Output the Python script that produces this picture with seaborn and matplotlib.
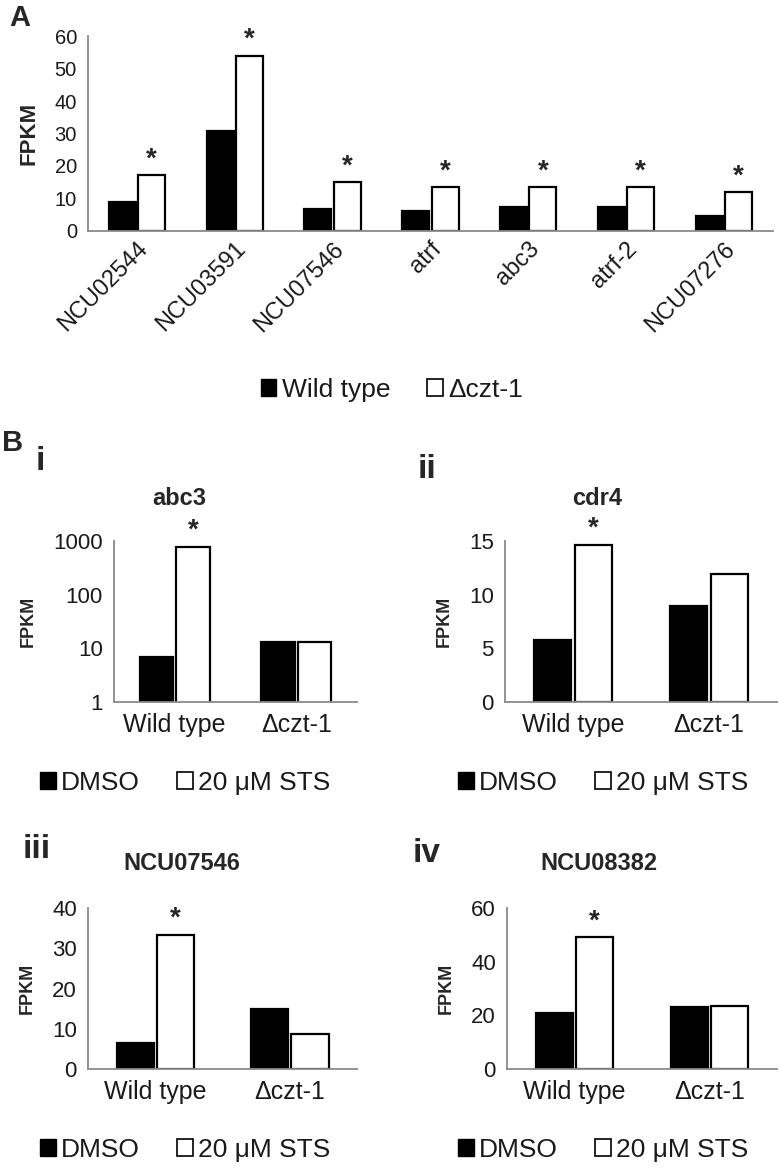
import numpy as np
import pandas as pd
import matplotlib.pyplot as plt
import seaborn as sns
from matplotlib.patches import Patch
from matplotlib.ticker import FixedLocator, NullLocator

# ---------------- data ----------------
genes_a = ["NCU02544", "NCU03591", "NCU07546", "atrf", "abc3", "atrf-2", "NCU07276"]
wt_a = [8.9, 30.9, 6.8, 6.3, 7.3, 7.3, 4.6]
czt_a = [17.2, 54.0, 15.1, 13.4, 13.4, 13.4, 11.9]
strains_a = ["Wild type", "\u0394czt-1"]

strains_b = ["Wild type", "\u0394czt-1"]
treatments = ["DMSO", "20 \u03bcM STS"]
abc3_dmso = [6.9, 13.1]
abc3_sts = [780, 13.0]
cdr4_dmso = [5.8, 8.95]
cdr4_sts = [14.66, 11.96]
ncu07546_dmso = [6.4, 14.8]
ncu07546_sts = [33.4, 8.7]
ncu08382_dmso = [21.0, 23.0]
ncu08382_sts = [49.1, 23.5]

sns.set_style("white")
plt.rcParams["font.family"] = ["Liberation Sans", "DejaVu Sans"]

GREY = "#8a8a8a"
TXT = "#1a1a1a"

fig = plt.figure(figsize=(7.79, 11.69), dpi=100)


def style_axes(ax, n, ysize):
    for s in ["top", "right"]:
        ax.spines[s].set_visible(False)
    for s in ["left", "bottom"]:
        ax.spines[s].set_color(GREY)
        ax.spines[s].set_linewidth(1.3)
    ax.set_xlim(-0.5, n - 0.5)
    ax.xaxis.set_minor_locator(FixedLocator(np.arange(-0.5, n, 1.0)))
    ax.tick_params(axis="x", which="major", length=0, pad=8, colors=TXT)
    ax.tick_params(axis="x", which="minor", length=7, width=1.3, color=GREY)
    ax.tick_params(axis="y", which="major", length=5, width=1.3, color=GREY,
                   labelcolor=TXT, labelsize=ysize, pad=3)
    ax.tick_params(axis="y", which="minor", length=0)
    ax.set_xlabel("")


def bars(ax, cats, s1, s2, hue_names, width=0.6):
    df = pd.DataFrame({
        "cat": cats * 2,
        "val": list(s1) + list(s2),
        "grp": [hue_names[0]] * len(cats) + [hue_names[1]] * len(cats),
    })
    sns.barplot(data=df, x="cat", y="val", hue="grp", order=cats,
                hue_order=hue_names, palette=["black", "white"],
                edgecolor="black", linewidth=1.6, width=width, gap=0.08,
                legend=False, ax=ax)


def stars(ax, idx):
    for i in idx:
        b = ax.containers[1][i]
        ax.annotate("*", (b.get_x() + b.get_width() / 2, b.get_height()),
                    xytext=(0, 2), textcoords="offset points",
                    ha="center", va="bottom", fontsize=20, fontweight="bold")


def legend(labels, x, y, size):
    h = [Patch(facecolor="black", edgecolor="black"),
         Patch(facecolor="white", edgecolor="black", linewidth=1.2)]
    fig.legend(h, labels, loc="center", bbox_to_anchor=(x, y), ncol=2,
               frameon=False, fontsize=size, handlelength=0.6,
               handleheight=0.6, handletextpad=0.2, columnspacing=1.4,
               labelcolor=TXT)


# ---------------- panel A ----------------
axA = fig.add_axes([0.113, 0.8024, 0.879, 0.1668])
bars(axA, genes_a, wt_a, czt_a, strains_a)
style_axes(axA, len(genes_a), 14.5)
axA.set_ylim(0, 60)
axA.set_yticks([0, 10, 20, 30, 40, 50, 60])
axA.set_ylabel("FPKM", fontsize=16, fontweight="bold", labelpad=11)
plt.setp(axA.get_xticklabels(), rotation=45, ha="right",
         rotation_mode="anchor", fontsize=17)
axA.tick_params(axis="x", which="major", pad=5)
stars(axA, range(len(genes_a)))
legend(strains_a, 0.503, 1 - 390 / 1169, 19)
fig.text(0.012, 1 - 18 / 1169, "A", fontsize=21, fontweight="bold", va="center")

# ---------------- panel B ----------------
panels = [
    ("i", "abc3", abc3_dmso, abc3_sts, [0.1463, 0.3995, 0.3119, 0.1377], 0.27),
    ("ii", "cdr4", cdr4_dmso, cdr4_sts, [0.6483, 0.3995, 0.3492, 0.1377], 0.34),
    ("iii", "NCU07546", ncu07546_dmso, ncu07546_sts, [0.1130, 0.0855, 0.3453, 0.1377], 0.35),
    ("iv", "NCU08382", ncu08382_dmso, ncu08382_sts, [0.6508, 0.0855, 0.3466, 0.1377], 0.34),
]
yticks = {
    "i": [1, 10, 100, 1000],
    "ii": [0, 5, 10, 15],
    "iii": [0, 10, 20, 30, 40],
    "iv": [0, 20, 40, 60],
}
legend_pos = {
    "i": (0.2375, 1 - 783 / 1169),
    "ii": (0.774, 1 - 783 / 1169),
    "iii": (0.2375, 1 - 1150 / 1169),
    "iv": (0.774, 1 - 1150 / 1169),
}

for tag, gene, dmso, sts, rect, tx in panels:
    ax = fig.add_axes(rect)
    if tag == "i":
        ax.set_yscale("log")
    bars(ax, strains_b, dmso, sts, treatments)
    style_axes(ax, 2, 16)
    yt = yticks[tag]
    ax.set_ylim(yt[0], yt[-1])
    ax.yaxis.set_major_locator(FixedLocator(yt))
    ax.set_yticklabels([str(v) for v in yt])
    ax.yaxis.set_minor_locator(NullLocator())
    ax.xaxis.set_minor_locator(FixedLocator([-0.5, 0.5, 1.5]))
    ax.tick_params(axis="x", which="major", labelsize=18)
    ax.set_ylabel("FPKM", fontsize=13, fontweight="bold", labelpad=12)
    stars(ax, [0])
    ty = 1 + 43 / 161 if tag in ("i", "ii") else 1 + 45 / 161
    ax.text(tx, ty, gene, transform=ax.transAxes, ha="center",
            va="center", fontsize=17, fontweight="bold")
    lx, ly = legend_pos[tag]
    legend(treatments, lx, ly, 19)

fig.text(0.003, 1 - 443 / 1169, "B", fontsize=21, fontweight="bold", va="center")
fig.text(0.046, 1 - 462 / 1169, "i", fontsize=24, fontweight="bold", va="center")
fig.text(0.536, 1 - 470 / 1169, "ii", fontsize=24, fontweight="bold", va="center")
fig.text(0.029, 1 - 850 / 1169, "iii", fontsize=24, fontweight="bold", va="center")
fig.text(0.530, 1 - 853 / 1169, "iv", fontsize=24, fontweight="bold", va="center")

fig.savefig("out.png", dpi=100)
